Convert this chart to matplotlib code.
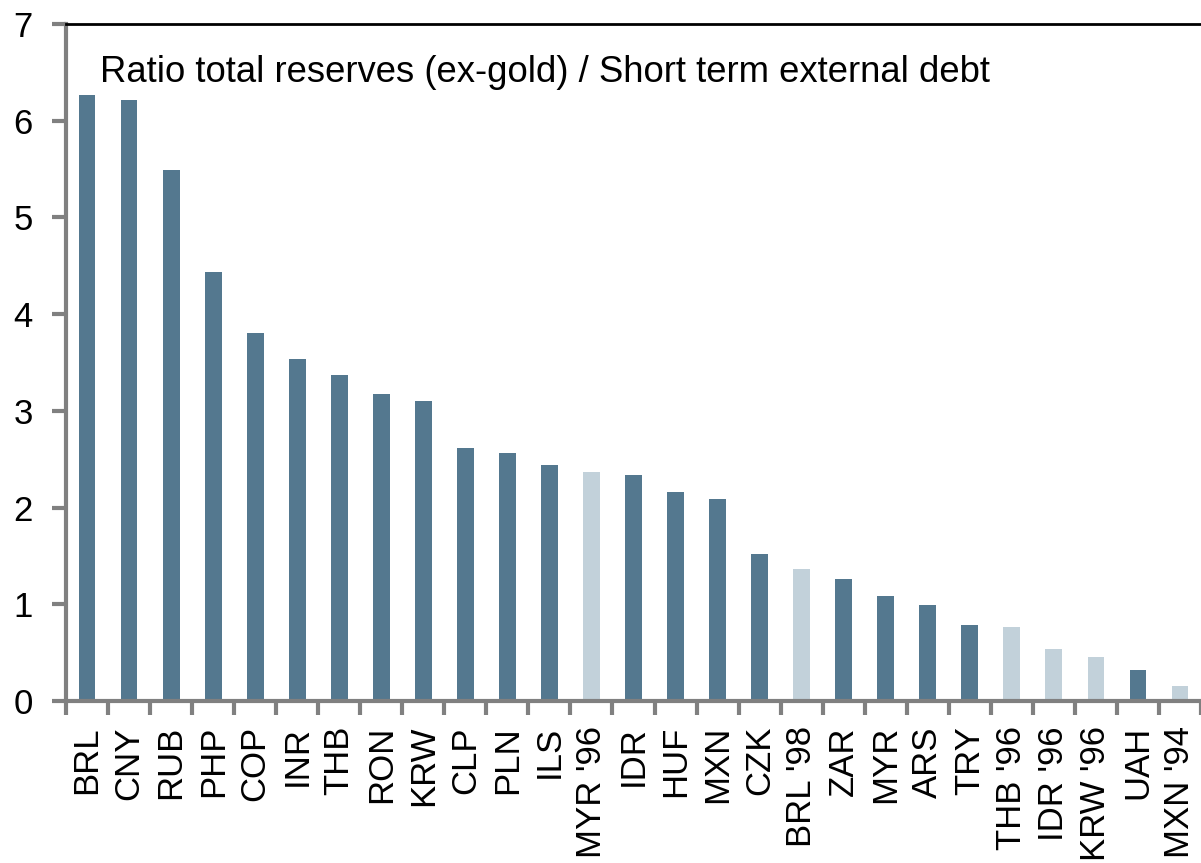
import matplotlib
matplotlib.use("Agg")
import matplotlib.pyplot as plt
import numpy as np

categories = ["BRL", "CNY", "RUB", "PHP", "COP", "INR", "THB", "RON", "KRW", "CLP",
              "PLN", "ILS", "MYR '96", "IDR", "HUF", "MXN", "CZK", "BRL '98", "ZAR",
              "MYR", "ARS", "TRY", "THB '96", "IDR '96", "KRW '96", "UAH", "MXN '94"]
values = [6.27, 6.21, 5.49, 4.44, 3.80, 3.54, 3.37, 3.17, 3.10, 2.62,
          2.56, 2.44, 2.37, 2.34, 2.16, 2.09, 1.52, 1.37, 1.26,
          1.09, 0.99, 0.79, 0.77, 0.54, 0.45, 0.32, 0.15]
historical = [False, False, False, False, False, False, False, False, False, False,
              False, False, True, False, False, False, False, True, False,
              False, False, False, True, True, True, False, True]
title = "Ratio total reserves (ex-gold) / Short term external debt"

dark = "#54788f"
light = "#c2d1da"
axis_gray = "#808080"

plt.rcParams['font.family'] = ['Liberation Sans', 'DejaVu Sans']

fig = plt.figure(figsize=(12.01, 8.63), dpi=100)
ax = fig.add_axes([66/1201, 1 - 701/863, 1 - 66/1201, (701 - 24)/863])

x = np.arange(len(categories))
colors = [light if h else dark for h in historical]
ax.bar(x, values, width=0.4, color=colors, zorder=2)

ax.set_xlim(-0.5, 26.46)
ax.set_ylim(0, 7)
ax.set_yticks(range(0, 8))
ax.set_xticks(x)
ax.set_xticklabels(categories, rotation=90, fontsize=25)
ax.set_xticks(np.arange(-0.5, len(categories), 1), minor=True)

ax.tick_params(axis='y', which='major', length=10, width=3, color=axis_gray,
               labelsize=25, pad=14, direction='out')
ax.tick_params(axis='x', which='major', length=0, pad=18)
ax.tick_params(axis='x', which='minor', length=10, width=3, color=axis_gray, direction='out')

for s in ['left', 'bottom']:
    ax.spines[s].set_color(axis_gray)
    ax.spines[s].set_linewidth(3)
ax.spines['top'].set_color('black')
ax.spines['top'].set_linewidth(2)
ax.spines['right'].set_visible(False)

fig.text(100/1201, 1 - 82/863, title, fontsize=26.3, ha='left', va='baseline')

fig.savefig("out.png", dpi=100)
